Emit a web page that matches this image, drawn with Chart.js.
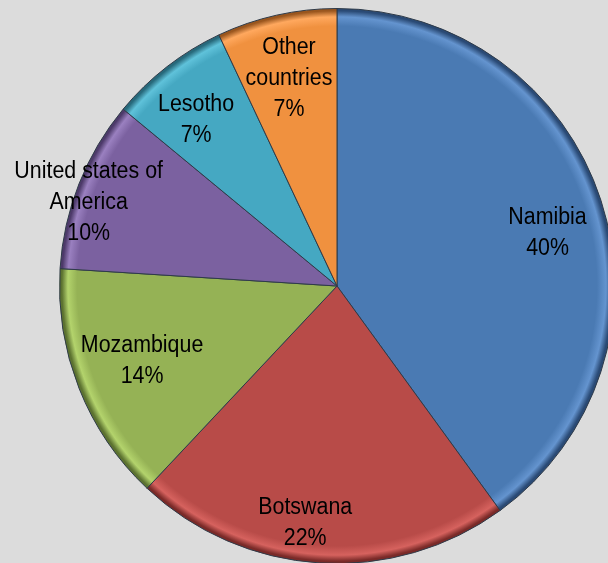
<!DOCTYPE html>
<html>
<head>
<meta charset="utf-8">
<script src="https://cdn.jsdelivr.net/npm/chart.js@4"></script>
<style>
  html, body { margin: 0; padding: 0; background: #dcdcdc; }
  body { width: 608px; height: 563px; overflow: hidden; position: relative; }
  #wrap { position: absolute; left: 0; top: 0; width: 674px; height: 574px; }
</style>
</head>
<body>
<div id="wrap"><canvas id="grafico"></canvas></div>
<script>
// datos
const paises = ["Namibia", "Botswana", "Mozambique", ["United states of", "America"], "Lesotho", ["Other", "countries"]];
const porcentajes = [40, 22, 14, 10, 7, 7];

// estilo
const colores = ["#4a7ab3", "#b84b48", "#95b255", "#7b61a0", "#45a8c2", "#f0913f"];
const claros = ["#6494cf", "#d6625e", "#b3d36c", "#9a80c0", "#5fc2da", "#ffa85e"];
const oscuros = ["#2a4a75", "#7a2a28", "#5c7230", "#4d3a6a", "#27697b", "#9a561e"];
const radioEtiqueta = [0.784, 0.855, 0.75, 0.947, 0.79, 0.775];
const giroEtiqueta = [3.4, 4.1, 1.1, -2.5, -2.2, -0.3];

function relleno(ctx) {
  const i = ctx.dataIndex;
  const chart = ctx.chart;
  const a = chart.chartArea;
  if (!a) return colores[i];
  const cx = (a.left + a.right) / 2, cy = (a.top + a.bottom) / 2;
  const r = Math.min(a.width, a.height) / 2;
  const g = chart.ctx.createRadialGradient(cx, cy, 0, cx, cy, r);
  g.addColorStop(0, colores[i]);
  g.addColorStop(0.935, colores[i]);
  g.addColorStop(0.968, claros[i]);
  g.addColorStop(0.99, oscuros[i]);
  g.addColorStop(1, oscuros[i]);
  return g;
}

const etiquetas = {
  id: "etiquetas",
  afterDatasetsDraw(chart) {
    const ctx = chart.ctx;
    const meta = chart.getDatasetMeta(0);
    ctx.save();
    ctx.fillStyle = "#000";
    ctx.textAlign = "center";
    ctx.textBaseline = "alphabetic";
    ctx.font = "23px 'Liberation Sans', Arial, sans-serif";
    meta.data.forEach((arc, i) => {
      const p = arc.getProps(["x", "y", "startAngle", "endAngle", "outerRadius"], true);
      const mid = (p.startAngle + p.endAngle) / 2 + giroEtiqueta[i] * Math.PI / 180;
      const r = p.outerRadius * radioEtiqueta[i];
      const x = p.x + Math.cos(mid) * r;
      const y = p.y + Math.sin(mid) * r;
      const nombre = paises[i];
      const lineas = (Array.isArray(nombre) ? nombre : [nombre]).concat([porcentajes[i] + "%"]);
      const alto = 17 + 31 * (lineas.length - 1);
      let base = y - alto / 2 + 17;
      lineas.forEach(t => {
        ctx.save();
        ctx.translate(x, base);
        ctx.scale(0.93, 1);
        ctx.fillText(t, 0, 0);
        ctx.restore();
        base += 31;
      });
    });
    ctx.restore();
  }
};

new Chart(document.getElementById("grafico"), {
  type: "pie",
  data: {
    labels: paises,
    datasets: [{
      data: porcentajes,
      backgroundColor: relleno,
      borderColor: "#2e3a48",
      borderWidth: 1
    }]
  },
  options: {
    responsive: true,
    maintainAspectRatio: false,
    animation: false,
    layout: { padding: { left: 59, right: 59, top: 8, bottom: 10 } },
    plugins: {
      legend: { display: false },
      tooltip: { enabled: false }
    }
  },
  plugins: [etiquetas]
});
</script>
</body>
</html>
